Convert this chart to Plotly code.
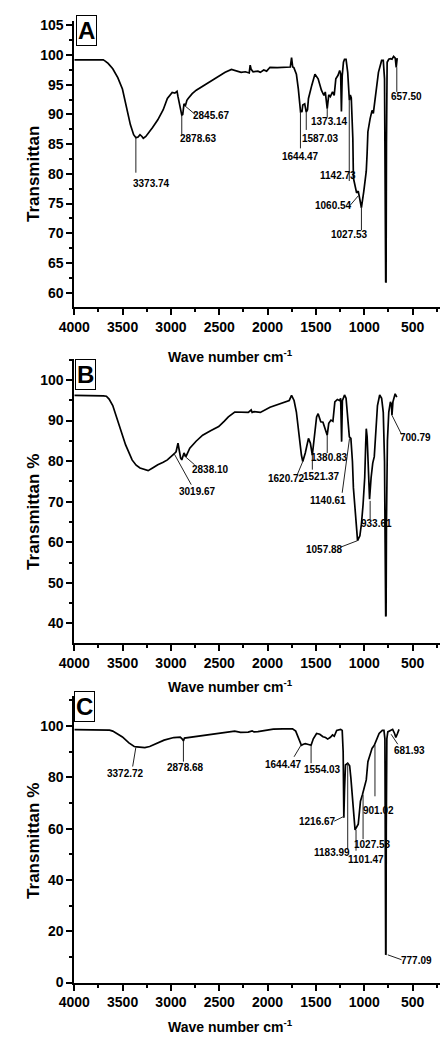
import plotly.graph_objects as go

# ---------------- data ----------------
A_wn = [4000, 3800, 3700, 3680, 3650, 3602, 3550, 3502, 3452, 3420, 3386, 3362, 3340, 3320, 3300, 3286, 3260, 3236,
        3190, 3136, 3080, 3037, 2987, 2960, 2937, 2927, 2910, 2888, 2878, 2865, 2850, 2835, 2822, 2780, 2738, 2670,
        2606, 2520, 2439, 2374, 2320, 2274, 2230, 2190, 2180, 2170, 2150, 2100, 2075, 2040, 2010, 1975, 1900, 1800,
        1765, 1752, 1740, 1728, 1702, 1682, 1659, 1644, 1636, 1616, 1600, 1587, 1577, 1543, 1510, 1477, 1443, 1417,
        1403, 1383, 1367, 1351, 1328, 1311, 1294, 1271, 1254, 1244, 1236, 1228, 1215, 1204, 1188, 1171, 1154, 1144,
        1134, 1118, 1112, 1079, 1062, 1055, 1029, 1005, 979, 970, 962, 939, 919, 906, 886, 853, 820, 803, 790, 784,
        778, 774, 770, 763, 746, 729, 713, 696, 679, 669, 659]
A_T = [99.2, 99.25, 99.2, 99.0, 98.6, 97.7, 96.2, 94.3, 90.4, 88.3, 86.6, 86.1, 86.2, 86.6, 86.3, 86.0, 86.3, 86.8,
       87.8, 89.1, 90.8, 92.7, 93.7, 93.6, 93.9, 93.0, 91.5, 89.9, 90.0, 91.8, 91.5, 92.4, 92.7, 93.5, 94.1, 94.8,
       95.45, 96.3, 97.1, 97.6, 97.3, 97.1, 97.2, 97.0, 98.3, 97.6, 97.2, 97.3, 97.1, 97.5, 97.3, 97.95, 97.9, 97.95,
       98.0, 99.6, 98.0, 97.9, 96.8, 94.3, 90.45, 90.5, 91.6, 91.8, 90.4, 90.8, 92.7, 94.9, 96.8, 96.0, 94.1, 93.2,
       93.8, 91.0, 93.3, 93.0, 93.8, 93.2, 96.0, 96.6, 97.4, 96.9, 90.5, 96.5, 98.8, 99.3, 99.3, 97.1, 92.4, 93.3,
       92.8, 86.0, 79.3, 76.8, 77.1, 76.5, 74.3, 77.0, 80.45, 83.5, 87.1, 89.3, 90.7, 90.2, 92.7, 97.1, 99.1, 99.1,
       96.0, 85.0, 61.7, 61.8, 85.0, 98.8, 99.3, 99.4, 99.3, 99.8, 99.5, 97.95, 99.5]

B_wn = [4000, 3800, 3700, 3668, 3640, 3602, 3535, 3469, 3402, 3360, 3320, 3280, 3236, 3190, 3136, 3080, 3037, 2971,
        2947, 2927, 2914, 2900, 2888, 2875, 2865, 2845, 2825, 2805, 2740, 2672, 2590, 2506, 2450, 2406, 2340, 2274,
        2200, 2170, 2160, 2140, 2075, 1975, 1875, 1776, 1752, 1726, 1702, 1676, 1650, 1636, 1610, 1577, 1557, 1537,
        1517, 1493, 1477, 1450, 1427, 1410, 1383, 1367, 1344, 1324, 1304, 1278, 1254, 1244, 1234, 1226, 1204, 1188,
        1171, 1154, 1138, 1122, 1112, 1085, 1069, 1045, 1029, 1012, 995, 985, 979, 970, 960, 952, 945, 929, 919, 912,
        896, 880, 863, 840, 820, 803, 790, 784, 778, 774, 770, 760, 746, 729, 719, 713, 703, 690, 680, 663]
B_T = [96.2, 96.2, 96.1, 96.0, 95.3, 93.7, 88.9, 84.0, 80.3, 79.0, 78.3, 77.9, 77.65, 78.3, 79.1, 79.7, 80.3, 81.7,
       82.3, 84.4, 82.0, 80.8, 80.3, 81.2, 82.0, 81.1, 82.4, 83.2, 84.9, 86.4, 87.5, 88.5, 89.8, 90.9, 92.1, 92.1,
       92.0, 92.6, 92.0, 92.2, 92.0, 93.3, 94.1, 94.95, 96.2, 94.95, 92.1, 86.4, 81.5, 79.9, 82.0, 85.6, 84.4, 81.5,
       86.0, 90.9, 91.7, 89.7, 89.6, 88.5, 86.4, 89.3, 90.1, 89.8, 94.6, 95.2, 94.9, 95.5, 84.8, 94.9, 96.3, 95.5,
       90.5, 86.0, 85.6, 79.9, 73.4, 63.7, 60.4, 61.6, 64.5, 69.3, 75.9, 84.0, 88.0, 86.0, 78.0, 73.0, 70.6, 75.9, 79.1,
       79.5, 81.1, 88.0, 93.7, 96.3, 95.5, 92.0, 80.0, 60.0, 41.7, 42.0, 65.0, 85.0, 92.1, 94.6, 94.0, 91.3, 94.6,
       95.8, 96.6, 95.8]

C_wn = [4000, 3800, 3700, 3635, 3602, 3550, 3502, 3435, 3380, 3353, 3300, 3270, 3220, 3170, 3071, 2971, 2904, 2885,
        2871, 2860, 2738, 2606, 2439, 2340, 2280, 2200, 2160, 2141, 2100, 2000, 1941, 1842, 1742, 1709, 1676, 1650,
        1630, 1610, 1577, 1550, 1527, 1493, 1460, 1427, 1400, 1378, 1350, 1328, 1310, 1285, 1244, 1228, 1218, 1211,
        1204, 1194, 1171, 1151, 1138, 1112, 1095, 1062, 1039, 1019, 995, 979, 962, 945, 919, 896, 872, 846, 813, 796,
        786, 781, 778, 775, 772, 766, 756, 729, 706, 686, 673, 656, 640]
C_T = [98.6, 98.6, 98.5, 98.4, 98.0, 97.0, 95.75, 93.4, 92.0, 91.9, 91.6, 91.6, 92.0, 92.8, 94.5, 95.5, 95.7, 95.0,
       94.2, 95.3, 96.0, 96.7, 97.5, 98.0, 97.5, 97.6, 98.1, 97.7, 97.8, 98.4, 98.8, 98.9, 98.9, 98.0, 94.5, 92.5,
       92.9, 93.1, 92.8, 92.5, 95.0, 97.1, 96.8, 95.8, 95.5, 94.9, 95.6, 96.5, 96.0, 98.3, 98.7, 98.3, 90.0, 64.2,
       75.0, 84.8, 85.5, 84.5, 79.7, 68.1, 59.5, 61.7, 70.7, 73.2, 77.1, 79.0, 86.1, 87.9, 91.3, 92.5, 94.4, 97.1,
       98.3, 98.3, 95.0, 60.0, 10.8, 11.0, 60.0, 95.0, 97.7, 98.3, 98.7, 97.1, 95.5, 97.1, 98.7]

A_peaks = ["3373.74", "2878.63", "2845.67", "1644.47", "1587.03", "1373.14", "1142.73", "1060.54", "1027.53", "657.50"]
B_peaks = ["3019.67", "2838.10", "1620.72", "1521.37", "1380.83", "1140.61", "933.61", "1057.88", "700.79"]
C_peaks = ["3372.72", "2878.68", "1644.47", "1554.03", "1216.67", "1183.99", "1101.47", "1027.53", "901.02",
           "777.09", "681.93"]

X_TICKS = [4000, 3500, 3000, 2500, 2000, 1500, 1000, 500]

# ---------------- label placement (leader x0,y0,x1,y1 ; text x,y) ----------------
A_pos = [(3363, 86.1, 3363, 80.2, 3203, 78.45), (2888, 89.9, 2888, 86.6, 2720, 85.95),
         (2855, 91.45, 2745, 89.95, 2576, 89.8), (1660, 90.45, 1660, 84.3, 1655, 82.95),
         (1600, 90.4, 1600, 87.4, 1455, 86.0), (1383, 91.0, 1383, 89.5, 1356, 88.8),
         (1155, 92.4, 1155, 78.8, 1271, 79.8), (1062, 76.3, 1151, 74.6, 1321, 74.6),
         (1029, 74.3, 1029, 70.5, 1156, 69.8), (663, 97.95, 663, 93.8, 559, 93.1)]
B_pos = [(2971, 82.0, 2790, 74.2, 2722, 72.4), (2871, 81.5, 2755, 79.1, 2589, 77.9),
         (1636, 79.9, 1692, 76.7, 1809, 75.6), (1537, 81.5, 1537, 77.9, 1443, 76.3),
         (1383, 86.4, 1383, 82.0, 1361, 80.9), (1152, 85.6, 1228, 72.2, 1371, 70.2),
         (939, 70.2, 939, 65.7, 873, 64.5), (1069, 60.4, 1244, 58.8, 1410, 58.1),
         (713, 91.3, 614, 86.6, 471, 85.9)]
C_pos = [(3363, 91.7, 3396, 84.2, 3469, 81.35), (2871, 94.2, 2871, 86.1, 2845, 83.8),
         (1650, 92.8, 1726, 88.0, 1836, 85.1), (1550, 92.5, 1550, 85.5, 1427, 83.2),
         (1204, 64.9, 1311, 62.9, 1483, 62.7), (1171, 85.5, 1171, 52.0, 1338, 50.7),
         (1085, 59.5, 1085, 51.4, 985, 48.1), (1012, 73.2, 1012, 55.9, 912, 53.7),
         (889, 92.5, 889, 72.6, 853, 67.2), (756, 10.8, 614, 8.9, 457, 8.6),
         (722, 96.8, 653, 92.9, 534, 90.6)]

W, H = 440, 1042
FONT = "Liberation Sans, Arial, sans-serif"


def py(p):
    return 1 - p / H


panels = [
    dict(wn=A_wn, T=A_T, peaks=A_peaks, pos=A_pos, letter="A", xa="x", ya="y",
         dom=[py(307), py(18)], rng=[57.62, 105.78], dtick=5, minor=2.5,
         ytitle="Transmittan", ytitle_y=172.5, xtitle_y=357, letter_xy=(73.5, 27.5)),
    dict(wn=B_wn, T=B_T, peaks=B_peaks, pos=B_pos, letter="B", xa="x2", ya="y2",
         dom=[py(646.7), py(360)], rng=[35.2, 105.12], dtick=10, minor=5,
         ytitle="Transmittan %", ytitle_y=514, xtitle_y=690, letter_xy=(72.5, 375)),
    dict(wn=C_wn, T=C_T, peaks=C_peaks, pos=C_pos, letter="C", xa="x3", ya="y3",
         dom=[py(990), py(700)], rng=[0, 111.85], dtick=20, minor=10,
         ytitle="Transmittan %", ytitle_y=846.5, xtitle_y=1034, letter_xy=(71, 711.5)),
]

fig = go.Figure()
annotations = []
shapes = []
layout = dict(width=W, height=H, margin=dict(l=0, r=0, t=0, b=0), paper_bgcolor="white",
              plot_bgcolor="white", showlegend=False)

tickfont = dict(family=FONT, size=14, color="black", weight="bold")

for i, p in enumerate(panels):
    fig.add_trace(go.Scatter(x=p["wn"], y=p["T"], mode="lines", xaxis=p["xa"], yaxis=p["ya"],
                             line=dict(color="black", width=1.7), hoverinfo="skip"))
    xkey = "xaxis" if i == 0 else f"xaxis{i+1}"
    ykey = "yaxis" if i == 0 else f"yaxis{i+1}"
    layout[xkey] = dict(domain=[60.5 / W, 1], range=[4000, 216], anchor=p["ya"], tickvals=X_TICKS,
                        ticktext=[str(v) for v in X_TICKS], showline=True, linecolor="black", linewidth=2,
                        ticks="outside", ticklen=6, tickwidth=2, tickcolor="black", showgrid=False,
                        zeroline=False, tickfont=tickfont,
                        minor=dict(ticks="outside", ticklen=3, tickwidth=1.5, tickcolor="black",
                                   tickvals=[3750, 3250, 2750, 2250, 1750, 1250, 750, 250], showgrid=False))
    layout[ykey] = dict(domain=p["dom"], range=p["rng"], anchor=p["xa"], dtick=p["dtick"], tick0=0,
                        showline=True, linecolor="black", linewidth=2, ticks="outside", ticklen=6,
                        tickwidth=2, tickcolor="black", showgrid=False, zeroline=False, tickfont=tickfont,
                        minor=dict(ticks="outside", ticklen=3, tickwidth=1.5, tickcolor="black",
                                   dtick=p["minor"], showgrid=False))
    for label, (x0, y0, x1, y1, tx, ty) in zip(p["peaks"], p["pos"]):
        shapes.append(dict(type="line", xref=p["xa"], yref=p["ya"], x0=x0, y0=y0, x1=x1, y1=y1,
                           line=dict(color="#222", width=1)))
        annotations.append(dict(x=tx, y=ty, xref=p["xa"], yref=p["ya"], text=label, showarrow=False,
                                xanchor="center", yanchor="middle",
                                font=dict(family=FONT, size=10, color="black", weight="bold")))
    # y title
    annotations.append(dict(x=18 / W, y=py(p["ytitle_y"]), xref="paper", yref="paper", text=p["ytitle"],
                            textangle=-90, showarrow=False, xanchor="center", yanchor="middle",
                            font=dict(family=FONT, size=17, color="black", weight="bold")))
    # x title
    annotations.append(dict(x=223 / W, y=py(p["xtitle_y"]), xref="paper", yref="paper",
                            text="Wave number cm<sup>-1</sup>", showarrow=False, xanchor="center",
                            yanchor="middle", font=dict(family=FONT, size=14, color="black", weight="bold")))
    # panel letter
    lx, ly = p["letter_xy"]
    annotations.append(dict(x=lx / W, y=py(ly), xref="paper", yref="paper", text=p["letter"],
                            showarrow=False, xanchor="center", yanchor="middle", bordercolor="black",
                            borderwidth=1, borderpad=1,
                            font=dict(family=FONT, size=24, color="black", weight="bold")))

layout["annotations"] = annotations
layout["shapes"] = shapes
fig.update_layout(**layout)
fig.write_html("out.html")
